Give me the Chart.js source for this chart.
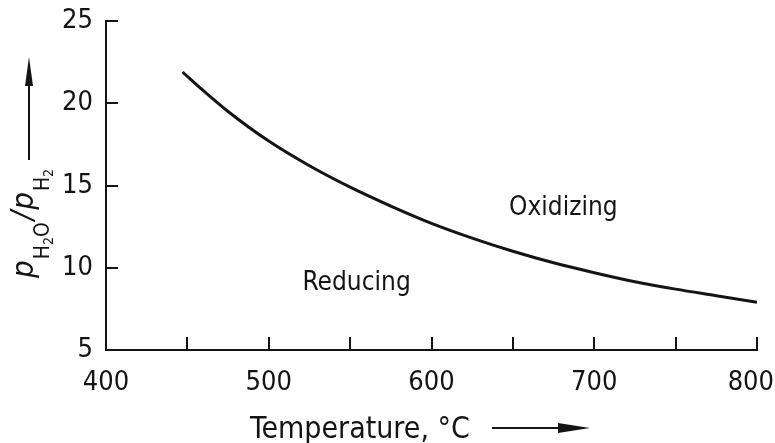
<!DOCTYPE html>
<html>
<head>
<meta charset="utf-8">
<script src="https://cdn.jsdelivr.net/npm/chart.js@4.4.1/dist/chart.umd.min.js"></script>
<style>
  html, body { margin: 0; padding: 0; background: #fff; }
  #wrap { width: 775px; height: 443px; position: relative; }
</style>
</head>
<body>
<div id="wrap"><canvas id="chart"></canvas></div>
<script>
// Equilibrium pH2O/pH2 ratio vs temperature
const temps  = [447, 460, 475, 500, 525, 550, 575, 600, 625, 650, 675, 700, 725, 750, 775, 800];
const ratios = [21.9, 20.75, 19.5, 17.7, 16.2, 14.9, 13.75, 12.7, 11.8, 11.0, 10.3, 9.7, 9.15, 8.7, 8.3, 7.9];

const xTicks = [400, 450, 500, 550, 600, 650, 700, 750, 800];
const xLabels = [400, 500, 600, 700, 800];
const yTicks = [5, 10, 15, 20, 25];

const regionNames = ['Reducing', 'Oxidizing'];
const regionTemp  = [554, 681];
const regionRatio = [8.65, 13.2];

const INK = '#141414';
const FONT = "'DejaVu Sans Condensed', 'DejaVu Sans', sans-serif";

function line(ctx, x1, y1, x2, y2) {
    ctx.beginPath();
    ctx.moveTo(x1, y1);
    ctx.lineTo(x2, y2);
    ctx.stroke();
}

// inward ticks, x labels, region names, axis titles with arrows
const decor = {
    id: 'decor',
    afterDraw(chart) {
        const { ctx, scales: { x, y } } = chart;
        ctx.save();
        ctx.strokeStyle = INK;
        ctx.fillStyle = INK;
        ctx.lineWidth = 2;

        x.ticks.forEach(t => {
            const px = Math.round(x.getPixelForValue(t.value));
            line(ctx, px, x.top, px, x.top - 13);
        });
        y.ticks.forEach(t => {
            const py = Math.round(y.getPixelForValue(t.value));
            line(ctx, y.right, py, y.right + 12, py);
        });

        // x tick labels, kept inside the canvas at the right end
        ctx.font = `27px ${FONT}`;
        ctx.textAlign = 'center';
        ctx.textBaseline = 'alphabetic';
        xLabels.forEach(v => {
            const txt = String(v);
            const half = ctx.measureText(txt).width / 2;
            const px = Math.min(x.getPixelForValue(v), chart.width - half - 1);
            ctx.fillText(txt, px, x.top + 40);
        });

        // region names
        ctx.font = `26px ${FONT}`;
        regionNames.forEach((name, i) => {
            ctx.fillText(name, x.getPixelForValue(regionTemp[i]), y.getPixelForValue(regionRatio[i]));
        });

        // x title
        ctx.textAlign = 'left';
        ctx.font = `30px ${FONT}`;
        ctx.fillText('Temperature, °C', 250, 438);
        line(ctx, 492, 428, 565, 428);
        ctx.beginPath();
        ctx.moveTo(590, 428);
        ctx.lineTo(558, 423);
        ctx.lineTo(558, 433);
        ctx.closePath();
        ctx.fill();

        // y title: p_H2O / p_H2, rotated
        ctx.save();
        ctx.translate(33, 278);
        ctx.rotate(-Math.PI / 2);
        let cx = 0;
        const seg = (txt, font, dy) => {
            ctx.font = font;
            ctx.fillText(txt, cx, dy);
            cx += ctx.measureText(txt).width;
        };
        const main = `italic 31px ${FONT}`;
        const sub = `21px ${FONT}`;
        const sub2 = `14px ${FONT}`;
        seg('p', main, 0);
        cx += 1;
        seg('H', sub, 16);
        seg('2', sub2, 20);
        seg('O', sub, 16);
        cx += 2;
        seg('/', main, -1);
        cx += 1;
        seg('p', main, 0);
        cx += 1;
        seg('H', sub, 16);
        seg('2', sub2, 20);
        ctx.restore();

        line(ctx, 29, 160, 29, 80);
        ctx.beginPath();
        ctx.moveTo(29, 57);
        ctx.lineTo(25, 86);
        ctx.lineTo(33, 86);
        ctx.closePath();
        ctx.fill();

        ctx.restore();
    }
};

new Chart(document.getElementById('chart'), {
    type: 'line',
    data: {
        datasets: [{
            data: temps.map((t, i) => ({ x: t, y: ratios[i] })),
            borderColor: INK,
            borderWidth: 3,
            pointRadius: 0,
            fill: false,
            cubicInterpolationMode: 'monotone'
        }]
    },
    options: {
        responsive: true,
        maintainAspectRatio: false,
        animation: false,
        layout: {
            autoPadding: false,
            padding: { left: 0, top: 21, right: 18, bottom: 0 }
        },
        plugins: {
            legend: { display: false },
            tooltip: { enabled: false }
        },
        scales: {
            x: {
                type: 'linear',
                min: 400,
                max: 800,
                afterBuildTicks: s => { s.ticks = xTicks.map(v => ({ value: v })); },
                afterFit: s => {
                    s.height = 93;
                    s.paddingLeft = 0;
                    s.paddingRight = 0;
                },
                border: { display: true, color: INK, width: 2 },
                grid: { drawOnChartArea: false, drawTicks: false },
                ticks: { display: false }
            },
            y: {
                type: 'linear',
                min: 5,
                max: 25,
                afterBuildTicks: s => { s.ticks = yTicks.map(v => ({ value: v })); },
                afterFit: s => {
                    s.width = 106;
                    s.paddingTop = 0;
                    s.paddingBottom = 0;
                },
                border: { display: true, color: INK, width: 2 },
                grid: { drawOnChartArea: false, drawTicks: false },
                ticks: {
                    color: INK,
                    padding: 13,
                    font: { family: FONT, size: 27 }
                }
            }
        }
    },
    plugins: [decor]
});
</script>
</body>
</html>
